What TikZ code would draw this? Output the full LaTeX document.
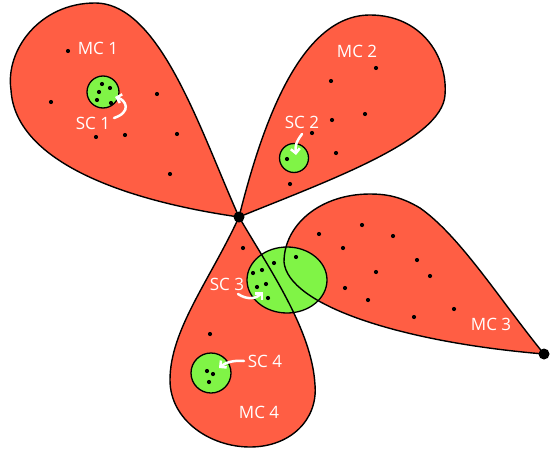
\documentclass[tikz,border=0pt]{standalone}
\usepackage{fontspec}
\setmainfont{Open Sans}
\usetikzlibrary{arrows.meta, shapes.geometric}
\definecolor{mcfill}{HTML}{FF5E44}
\definecolor{scfill}{HTML}{80F446}
\tikzset{
  mcpart/.style  = {fill=mcfill},
  mcline/.style  = {draw=black, line width=1.4pt},
  scblob/.style  = {circle, draw=black, fill=scfill, line width=1.3pt, inner sep=0pt},
  scoval/.style  = {ellipse, draw=black, fill=scfill, line width=1.3pt, inner sep=0pt},
  lbl/.style     = {text=white, font=\fontsize{17}{19}\selectfont, inner sep=0pt},
  pointer/.style = {draw=white, line width=2.5pt, line cap=round,
                    -{Straight Barb[length=4.5pt, width=9pt]}},
}
% petal outlines, pixel coordinates of the sketch
\newcommand{\petalA}{(239,217) .. controls (200,130) and (160,3) .. (95,3)
  .. controls (40,3) and (5,50) .. (11,90) .. controls (15,160) and (120,200) .. (239,217)}
\newcommand{\petalB}{(239,217) .. controls (262,125) and (300,15) .. (370,15)
  .. controls (420,15) and (448,55) .. (445,95) .. controls (442,140) and (330,180) .. (239,217)}
\newcommand{\petalC}{(544,354) .. controls (500,300) and (460,236) .. (420,208)
  .. controls (400,196) and (385,194) .. (370,194) .. controls (320,194) and (284,225) .. (284,262)
  .. controls (288,305) and (400,342) .. (544,354)}
\newcommand{\petalD}{(239,217) .. controls (210,280) and (170,330) .. (170,380)
  .. controls (170,420) and (210,447) .. (250,447) .. controls (290,447) and (318,420) .. (315,385)
  .. controls (312,330) and (270,270) .. (239,217)}
\begin{document}
\begin{tikzpicture}[x=1pt, y=-1pt]
  \useasboundingbox (0,0) rectangle (556,452);
  % main clusters
  \fill[mcpart] \petalA;
  \fill[mcpart] \petalB;
  \fill[mcpart] \petalC;
  \fill[mcpart] \petalD;
  % sub clusters
  \node[scblob, minimum size=32] (sc1) at (103,92) {};
  \node[scblob, minimum size=29] (sc2) at (294,158) {};
  \node[scoval, minimum width=80, minimum height=66] (sc3) at (287,280) {};
  \node[scblob, minimum size=40] (sc4) at (211,373) {};
  \draw[mcline] \petalA;
  \draw[mcline] \petalB;
  \draw[mcline] \petalC;
  \draw[mcline] \petalD;
  \fill (239,217) circle (5.5);
  \fill (544,354) circle (5.5);
  % points
  \foreach \x/\y in {68/51, 51/102, 157/94, 96/137, 125/135, 177/134, 170/174,
                     102/84, 110/88, 99/92, 97/100, 111/103,
                     376/68, 331/81, 365/114, 332/120, 312/133, 336/153, 290/184, 287/159,
                     243/248, 210/334, 207/371, 213/374, 209/382,
                     253/273, 262/270, 274/263, 296/257, 257/287, 266/284, 268/298,
                     319/234, 362/225, 393/236, 343/248, 417/260, 376/272, 430/276,
                     345/288, 368/300, 454/309, 414/317}{\fill (\x,\y) circle (2.1);}
  % labels
  \node[lbl] (mc1) at (98,48)  {MC 1};
  \node[lbl] (mc2) at (357,51) {MC 2};
  \node[lbl] (mc3) at (491,324) {MC 3};
  \node[lbl] (mc4) at (259,412) {MC 4};
  \node[lbl] (sc1lbl) at (93,123)  {SC 1};
  \node[lbl] (sc2lbl) at (302,122) {SC 2};
  \node[lbl] (sc3lbl) at (227,284) {SC 3};
  \node[lbl] (sc4lbl) at (265,361) {SC 4};
  % pointers
  \coordinate (p1) at (114,118);
  \coordinate (p2) at (302,134);
  \coordinate (p3) at (238,294);
  \coordinate (p4) at (244,361);
  \draw[pointer] (p1) .. controls (132,112) and (126,100) .. (115,97);
  \draw[pointer] (p2) .. controls (296,142) and (295,146) .. (296,155);
  \draw[pointer] (p3) .. controls (247,300) and (256,299) .. (263,292);
  \draw[pointer] (p4) .. controls (232,360) and (225,363) .. (219,368);
\end{tikzpicture}
\end{document}
